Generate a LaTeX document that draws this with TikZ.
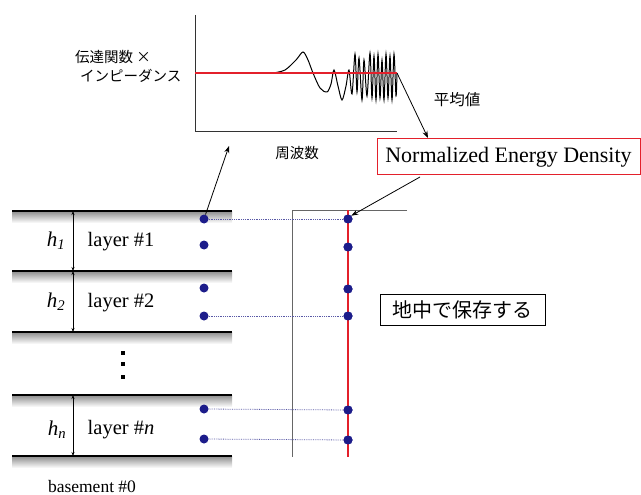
\documentclass[tikz,border=0pt]{standalone}
\usepackage{fontspec}
\setmainfont{Liberation Serif}
\newfontfamily\jp{Noto Sans CJK JP}
\usetikzlibrary{arrows.meta}
\definecolor{dotblue}{HTML}{1C1C8A}
\definecolor{myred}{HTML}{E3202B}
\tikzset{
  every node/.style={inner sep=0pt},
  bdot/.style={circle,fill=dotblue,minimum size=9pt},
  ground/.style={line width=1.6pt,black},
  harrow/.style={{Stealth[length=4pt,width=3pt]}-{Stealth[length=4pt,width=3pt]},line width=0.6pt},
  jtext/.style={font=\jp\fontsize{14.5}{16}\selectfont},
  ltext/.style={font=\fontsize{20.5}{22}\selectfont},
  htext/.style={font=\fontsize{21}{22}\selectfont},
  dotline/.style={densely dotted,gray!70!blue,line width=0.8pt},
  pointer/.style={-{Stealth[length=7pt,width=5pt]},line width=0.8pt},
}
\begin{document}
\begin{tikzpicture}[x=1pt,y=-1pt]
\useasboundingbox (0,0) rectangle (641,495);
% ---- graph ----
\draw[line width=0.8pt,black!80] (195,15) -- (195,131) -- (397,131);
\draw[line width=1pt,black]
  plot[smooth,tension=0.5] coordinates {(273,73) (285,70) (296,60) (303,52) (308,60) (313,73) (320,88) (327,92) (331,84) (334,70) (338,86) (342,100) (346,86) (349,70)
  (352,94) (355,54) (357,92) (359,58) (362,100) (364,60) (367,96) (370,53) (372,98) (374,56) (376,100) (378,54) (380,98) (382,60) (384,100) (386,54) (388,98) (390,56) (392,100) (394,54) (396,96) (397,73)};
\draw[myred,line width=1.6pt] (195,73) -- (397,73) coordinate (rend);
\node[jtext,anchor=west] (lab1) at (75,57) {伝達関数 ×};
\node[jtext,anchor=west] (lab2) at (80,76) {インピーダンス};
\node[jtext] (freq) at (297,153) {周波数};
\node[jtext,font=\jp\fontsize{15.5}{16}\selectfont] (avg) at (457,100) {平均値};
\node[draw=myred,line width=1pt,minimum width=263pt,minimum height=36pt,font=\fontsize{22}{24}\selectfont] (ned) at (508.5,157) {Normalized Energy Density};
\coordinate (g1) at (229,146);
% ---- layers ----
\foreach \y in {211,271,332,395,456}{
  \shade[top color=black!45,bottom color=white] (12,\y) rectangle (232,\y+12);
  \draw[ground] (12,\y) -- (232,\y);
}
\draw[harrow] (73,211) -- (73,271);
\draw[harrow] (73,271) -- (73,332);
\draw[harrow] (73,395) -- (73,456);
\node[htext] (h1) at (56,241) {\textit{h}\textsubscript{\textit{1}}};
\node[htext] (h2) at (56,302) {\textit{h}\textsubscript{\textit{2}}};
\node[htext] (hn) at (57,430) {\textit{h}\textsubscript{\textit{n}}};
\node[ltext] (l1) at (121,242) {layer \#1};
\node[ltext] (l2) at (121,303) {layer \#2};
\node[ltext] (ln) at (121,430) {layer \#\textit{n}};
\node[font=\fontsize{17.5}{18}\selectfont,anchor=base] (base) at (92,492) {basement \#0};
\foreach \y [count=\i] in {353,364,377}{
  \node[fill=black,minimum size=4pt] (vd\i) at (123,\y) {};
}
% ---- dots ----
\foreach \y [count=\i] in {219,245,288,316,409,439}{
  \node[bdot] (a\i) at (204,\y) {};
}
\foreach \y [count=\i] in {219,247,289,316,410,440}{
  \node[bdot] (b\i) at (348,\y) {};
}
% ---- right axis ----
\draw[line width=0.8pt,black!60] (407,210) -- (292,210) -- (292,457);
\draw[myred,line width=1.4pt] (348,210) -- (348,457);
\foreach \i in {1,4,5,6}{
  \draw[dotline] (a\i) -- (b\i);
}
\foreach \i in {1,...,6}{ \node[bdot] at (b\i) {}; }
\node[draw,line width=0.8pt,minimum width=165pt,minimum height=31pt,font=\jp\fontsize{20}{22}\selectfont] (store) at (462.5,309.5) {地中で保存する};
% ---- pointers ----
\draw[pointer] (rend) -- (428,138);
\draw[pointer] (420,177) -- (b1.north east);
\draw[pointer] (a1) -- (g1);
\end{tikzpicture}
\end{document}
